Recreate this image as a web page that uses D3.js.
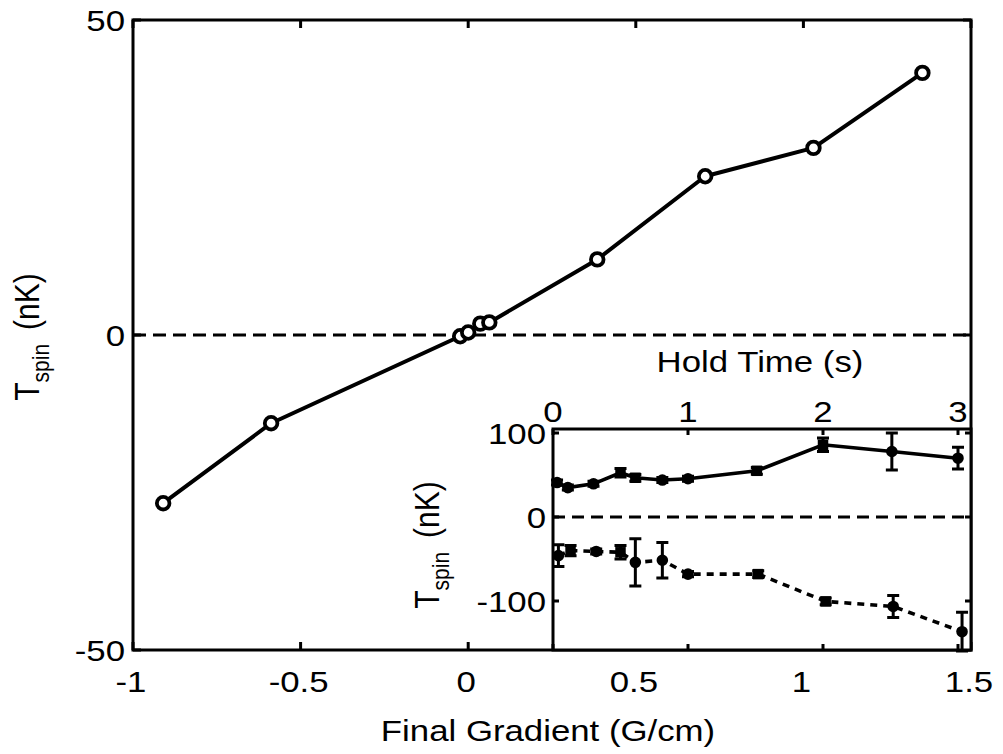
<!DOCTYPE html>
<html>
<head>
<meta charset="utf-8">
<script src="https://cdn.jsdelivr.net/npm/d3@7"></script>
<style>
  html, body { margin: 0; padding: 0; background: #fff; }
  svg { display: block; }
  text { font-family: "Liberation Sans", Arial, sans-serif; fill: #000; }
</style>
</head>
<body>
<div id="chart"></div>
<script>
// Main panel: spin temperature vs final gradient
const gradient = [-0.91, -0.588, -0.024, 0.0, 0.036, 0.063, 0.385, 0.707, 1.03, 1.355];
const tSpin = [-26.7, -14, -0.2, 0.4, 1.8, 2.0, 12, 25.2, 29.7, 41.6];
const mainXTicks = [-1, -0.5, 0, 0.5, 1, 1.5];
const mainYTicks = [-50, 0, 50];

// Inset: spin temperature vs hold time, two series
const holdUp = [0.03, 0.11, 0.3, 0.5, 0.61, 0.81, 1.0, 1.51, 2.0, 2.51, 3.0];
const tUp = [41, 35, 39.5, 52.7, 46.7, 44, 45.5, 55, 86, 78, 70];
const errUp = [3, 3, 3, 5, 4, 3, 3, 4, 8, 22, 13];
const shapeUp = ["o", "o", "o", "s", "s", "o", "o", "s", "s", "o", "o"];

const holdLow = [0.04, 0.13, 0.32, 0.5, 0.61, 0.81, 1.0, 1.52, 2.02, 2.52, 3.03];
const tLow = [-46, -40, -41, -42, -54, -51.5, -68, -68, -100.5, -106.5, -136.5];
const errLow = [13, 6, 3, 8, 28, 21, 3, 4, 4, 13, 23];
const shapeLow = ["o", "s", "o", "s", "o", "o", "o", "s", "s", "o", "o"];

const insetXTicks = [0, 1, 2, 3];
const insetYTicks = [-100, 0, 100];

const W = 1003, H = 754;
const FS = 30;      // label font size
const SX = 1.16;    // the source picture is stretched sideways

const svg = d3.select("#chart").append("svg")
  .attr("width", W).attr("height", H);

// text helper: stretched text anchored at (x, y)
function label(g, x, y, str, anchor) {
  return g.append("text")
    .attr("transform", `translate(${x},${y}) scale(${SX},1)`)
    .attr("text-anchor", anchor)
    .style("font-size", FS + "px")
    .text(str);
}
function tspinLabel(g, x, y) {
  const t = g.append("text")
    .attr("transform", `translate(${x},${y}) scale(${SX},1) rotate(-90)`)
    .attr("text-anchor", "middle")
    .style("font-size", FS + "px");
  t.append("tspan").text("T");
  t.append("tspan").attr("dy", 9).style("font-size", "21px").text("spin");
  t.append("tspan").attr("dy", -9).attr("dx", 14).text("(nK)");
}

// ---------- main plot ----------
const m = { left: 133, right: 971, top: 20, bottom: 650 };
const x = d3.scaleLinear().domain([-1, 1.5]).range([m.left, m.right]);
const y = d3.scaleLinear().domain([-50, 50]).range([m.bottom, m.top]);

const main = svg.append("g");

main.append("line")
  .attr("x1", m.left).attr("x2", m.right)
  .attr("y1", y(0)).attr("y2", y(0))
  .attr("stroke", "#000").attr("stroke-width", 3)
  .attr("stroke-dasharray", "13,7");

main.append("path")
  .datum(d3.range(gradient.length))
  .attr("fill", "none").attr("stroke", "#000").attr("stroke-width", 4)
  .attr("stroke-linejoin", "round")
  .attr("d", d3.line().x(i => x(gradient[i])).y(i => y(tSpin[i])));

main.append("g").selectAll("circle")
  .data(d3.range(gradient.length))
  .join("circle")
  .attr("cx", i => x(gradient[i])).attr("cy", i => y(tSpin[i]))
  .attr("r", 6.3)
  .attr("fill", "#fff").attr("stroke", "#000").attr("stroke-width", 3.8);

// ticks, inward on all four sides
const tl = 8;
main.append("g").selectAll("path")
  .data(mainXTicks)
  .join("path")
  .attr("stroke", "#000").attr("stroke-width", 3)
  .attr("d", d => `M${x(d)},${m.bottom}v${-tl}M${x(d)},${m.top}v${tl}`);
main.append("g").selectAll("path")
  .data(mainYTicks)
  .join("path")
  .attr("stroke", "#000").attr("stroke-width", 3)
  .attr("d", d => `M${m.left},${y(d)}h${tl}M${m.right},${y(d)}h${-tl}`);

mainXTicks.forEach(d => label(main, x(d) - 2, 692, String(d), "middle"));
mainYTicks.forEach(d => label(main, m.left - 8, y(d) + 11, String(d), "end"));

label(main, 548, 741, "Final Gradient (G/cm)", "middle");
tspinLabel(main, 39, y(0) + 2);

// ---------- inset ----------
const n = { left: 553, right: 971, top: 429, bottom: 650 };
const xi = d3.scaleLinear().domain([0, 3]).range([n.left, 958]);
const yi = d3.scaleLinear().domain([0, 100]).range([517, 433]);

const inset = svg.append("g");
inset.append("rect")
  .attr("x", n.left).attr("y", n.top)
  .attr("width", n.right - n.left).attr("height", n.bottom - n.top)
  .attr("fill", "#fff");

inset.append("line")
  .attr("x1", n.left).attr("x2", n.right)
  .attr("y1", yi(0)).attr("y2", yi(0))
  .attr("stroke", "#000").attr("stroke-width", 3)
  .attr("stroke-dasharray", "12,7");

function series(hold, temp, err, shape, dash) {
  const idx = d3.range(hold.length);
  const g = inset.append("g");
  g.append("path")
    .datum(idx)
    .attr("fill", "none").attr("stroke", "#000").attr("stroke-width", 3.6)
    .attr("stroke-dasharray", dash)
    .attr("d", d3.line().x(i => xi(hold[i])).y(i => yi(temp[i])));
  g.append("g").selectAll("path")
    .data(idx)
    .join("path")
    .attr("stroke", "#000").attr("stroke-width", 3).attr("fill", "none")
    .attr("d", i => {
      const cx = xi(hold[i]), y0 = yi(temp[i] - err[i]), y1 = yi(temp[i] + err[i]);
      return `M${cx},${y0}V${y1}M${cx - 6},${y0}h12M${cx - 6},${y1}h12`;
    });
  g.append("g").selectAll("path.mk")
    .data(idx)
    .join("path")
    .attr("class", "mk")
    .attr("fill", "#000")
    .attr("transform", i => `translate(${xi(hold[i])},${yi(temp[i])})`)
    .attr("d", i => shape[i] === "s"
      ? d3.symbol(d3.symbolSquare, 110)()
      : d3.symbol(d3.symbolCircle, 105)());
}
series(holdUp, tUp, errUp, shapeUp, null);
series(holdLow, tLow, errLow, shapeLow, "7,6");

inset.append("rect")
  .attr("x", n.left).attr("y", n.top)
  .attr("width", n.right - n.left).attr("height", n.bottom - n.top)
  .attr("fill", "none").attr("stroke", "#000").attr("stroke-width", 3);

const til = 6;
inset.append("g").selectAll("path")
  .data(insetXTicks)
  .join("path")
  .attr("stroke", "#000").attr("stroke-width", 3)
  .attr("d", d => `M${xi(d)},${n.top}v${til}M${xi(d)},${n.bottom}v${-til}`);
inset.append("g").selectAll("path")
  .data(insetYTicks)
  .join("path")
  .attr("stroke", "#000").attr("stroke-width", 3)
  .attr("d", d => `M${n.left},${yi(d)}h${til}M${n.right},${yi(d)}h${-til}`);

insetXTicks.forEach(d => label(inset, xi(d), 422, String(d), "middle"));
insetYTicks.forEach(d => label(inset, n.left - 7, yi(d) + 11, String(d), "end"));
label(inset, 760, 372, "Hold Time (s)", "middle");
tspinLabel(inset, 439, 545);

// main frame drawn last so the inset sits inside it
main.append("rect")
  .attr("x", m.left).attr("y", m.top)
  .attr("width", m.right - m.left).attr("height", m.bottom - m.top)
  .attr("fill", "none").attr("stroke", "#000").attr("stroke-width", 3);
</script>
</body>
</html>
